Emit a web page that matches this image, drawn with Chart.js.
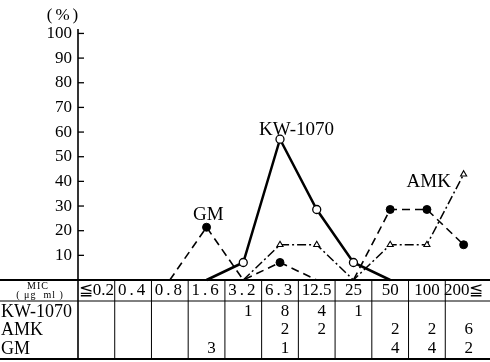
<!DOCTYPE html>
<html>
<head>
<meta charset="utf-8">
<script src="https://cdn.jsdelivr.net/npm/chart.js@4/dist/chart.umd.min.js"></script>
<style>
html,body{margin:0;padding:0;background:#fff;}
canvas{display:block;}
</style>
</head>
<body>
<canvas id="c" width="490" height="362"></canvas>
<script>
// ---- data ----
const categories = ["≦0.2","0.4","0.8","1.6","3.2","6.3","12.5","25","50","100","200≦"];
const kwPct  = [null,null,null,0,7.1,57.1,28.6,7.1,0,null,null];
const amkPct = [null,null,null,null,0,14.3,14.3,0,14.3,14.3,42.9];
const gmPct  = [null,null,0,21.4,0,7.1,0,0,28.6,28.6,14.3];
const kwCount  = ["","","","","1","8","4","1","","",""];
const amkCount = ["","","","","","2","2","","2","2","6"];
const gmCount  = ["","","","3","","1","","","4","4","2"];
const rowNames = ["KW-1070","AMK","GM"];
const yTicks = [10,20,30,40,50,60,70,80,90,100];
const seriesLabels = [
  {text:"KW-1070", x:5.45, y:61},
  {text:"GM", x:3.05, y:26.4},
  {text:"AMK", x:9.05, y:39.8}
];

const SERIF = '"Liberation Serif", "DejaVu Serif", serif';
const radii = arr => arr.map(v => (v === 0 || v === null) ? 0 : 4);
const radiiT = arr => arr.map(v => (v === 0 || v === null) ? 0 : 3.5);

const tablePlugin = {
  id: 'tablePlugin',
  afterDraw(chart) {
    const ctx = chart.ctx;
    const xs = chart.scales.x, ys = chart.scales.y;
    const ca = chart.chartArea;
    const W = chart.width;
    const colW = ca.width / categories.length;
    const base = ys.getPixelForValue(0);
    const headBottom = base + 21;
    const tableBottom = 359;
    ctx.save();
    ctx.strokeStyle = '#000';
    ctx.fillStyle = '#000';
    // y axis line (through table)
    ctx.lineWidth = 1.6;
    ctx.beginPath(); ctx.moveTo(ca.left, ca.top); ctx.lineTo(ca.left, tableBottom); ctx.stroke();
    // inward ticks
    ctx.lineWidth = 1.3;
    yTicks.forEach(v => {
      const y = ys.getPixelForValue(v);
      ctx.beginPath(); ctx.moveTo(ca.left, y); ctx.lineTo(ca.left + 6, y); ctx.stroke();
    });
    // horizontal table lines
    ctx.lineWidth = 2;
    ctx.beginPath(); ctx.moveTo(0, base); ctx.lineTo(W, base); ctx.stroke();
    ctx.lineWidth = 1;
    ctx.beginPath(); ctx.moveTo(0, headBottom); ctx.lineTo(W, headBottom); ctx.stroke();
    ctx.lineWidth = 2;
    ctx.beginPath(); ctx.moveTo(0, tableBottom); ctx.lineTo(W, tableBottom); ctx.stroke();
    // vertical column lines
    ctx.lineWidth = 1;
    for (let i = 1; i < categories.length; i++) {
      const x = xs.getPixelForValue(i) - colW / 2;
      ctx.beginPath(); ctx.moveTo(x, base); ctx.lineTo(x, tableBottom); ctx.stroke();
    }
    // header labels
    ctx.textAlign = 'center';
    ctx.textBaseline = 'middle';
    ctx.font = '17px ' + SERIF;
    categories.forEach((c, i) => {
      const x = xs.getPixelForValue(i);
      ctx.letterSpacing = (c.length === 3 && c.indexOf('.') > 0) ? '3px' : '0px';
      ctx.fillText(c, x, base + 11);
    });
    ctx.letterSpacing = '0px';
    // MIC header
    ctx.font = '10px ' + SERIF;
    ctx.letterSpacing = '1px';
    ctx.fillText('MIC', 38, base + 6);
    ctx.fillText('( μg  ml )', 40, base + 15);
    ctx.letterSpacing = '0px';
    // row names
    ctx.textAlign = 'left';
    ctx.font = '18px ' + SERIF;
    const rowY = [312, 330, 349];
    rowNames.forEach((n, r) => ctx.fillText(n, 1, rowY[r]));
    // counts
    ctx.textAlign = 'center';
    ctx.font = '17px ' + SERIF;
    [kwCount, amkCount, gmCount].forEach((arr, r) => {
      arr.forEach((v, i) => {
        if (v) ctx.fillText(v, xs.getPixelForValue(i) + 5, rowY[r]);
      });
    });
    // (%) title
    ctx.font = '17px ' + SERIF;
    ctx.letterSpacing = '3px';
    ctx.fillText('(%)', 64, 16);
    ctx.letterSpacing = '0px';
    // series labels
    ctx.font = '19px ' + SERIF;
    seriesLabels.forEach(l => {
      const x = ca.left + (l.x + 0.5) * colW;
      ctx.fillText(l.text, x, ys.getPixelForValue(l.y));
    });
    ctx.restore();
  }
};

new Chart(document.getElementById('c'), {
  type: 'line',
  data: {
    labels: categories,
    datasets: [
      {
        label: 'KW-1070', data: kwPct,
        borderColor: '#000', borderWidth: 2.5,
        pointRadius: radii(kwPct), pointBackgroundColor: '#fff',
        pointBorderColor: '#000', pointBorderWidth: 1.3,
        tension: 0, clip: false
      },
      {
        label: 'AMK', data: amkPct,
        borderColor: '#000', borderWidth: 1.5, borderDash: [9, 3, 2, 3],
        pointStyle: 'triangle',
        pointRadius: radiiT(amkPct), pointBackgroundColor: '#fff',
        pointBorderColor: '#000', pointBorderWidth: 1.1,
        tension: 0, clip: false
      },
      {
        label: 'GM', data: gmPct,
        borderColor: '#000', borderWidth: 1.6, borderDash: [8, 5],
        pointRadius: radii(gmPct), pointBackgroundColor: '#000',
        pointBorderColor: '#000', pointBorderWidth: 1,
        tension: 0, clip: false
      }
    ]
  },
  options: {
    responsive: false,
    animation: false,
    events: [],
    layout: { padding: { top: 29, bottom: 82, left: 0, right: 8 } },
    plugins: { legend: { display: false }, tooltip: { enabled: false } },
    scales: {
      x: { display: false, offset: true },
      y: {
        min: 0, max: 101.8,
        afterFit(s) { s.width = 78; },
        afterBuildTicks(s) { s.ticks = yTicks.map(v => ({ value: v })); },
        grid: { display: false, drawTicks: false },
        border: { display: false },
        ticks: {
          padding: 6, color: '#000',
          font: { family: SERIF, size: 17 }
        }
      }
    }
  },
  plugins: [tablePlugin]
});
</script>
</body>
</html>
